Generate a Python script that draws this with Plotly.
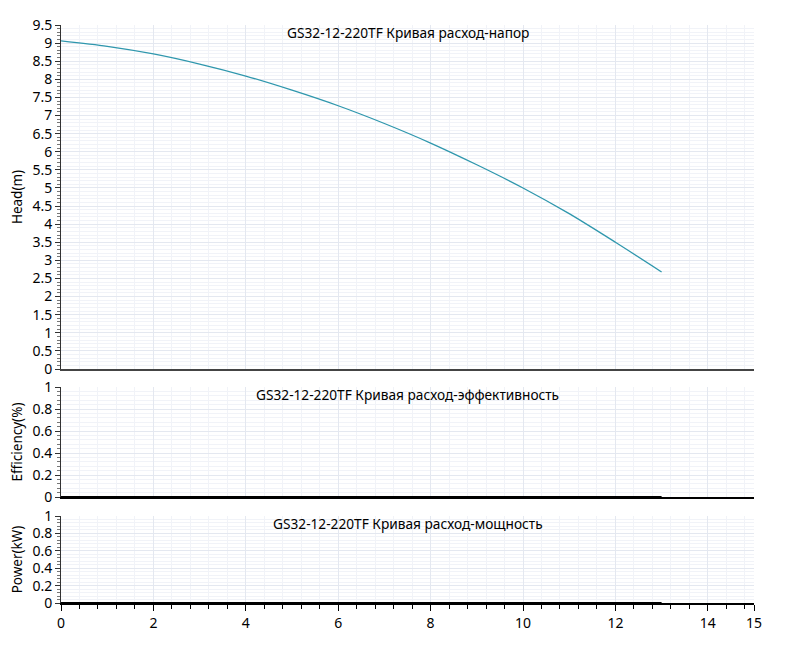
import plotly.graph_objects as go
from plotly.subplots import make_subplots

title_model = "GS32-12-220TF"
flow = [0, 1, 2, 3, 4, 5, 6, 7, 8, 9, 10, 11, 12, 13]
head = [9.06, 8.91, 8.70, 8.42, 8.09, 7.70, 7.27, 6.78, 6.24, 5.64, 5.00, 4.29, 3.50, 2.68]
eff_flow = [0, 13]
eff = [0, 0]
power_flow = [0, 13]
power = [0, 0]
x_ticks = [0, 2, 4, 6, 8, 10, 12, 14, 15]

FONT = "Noto Sans"
major = "#e4e8f0"
minor = "#f1f3f8"

fig = make_subplots(rows=3, cols=1, shared_xaxes=True, vertical_spacing=0.03)
fig.add_trace(go.Scatter(x=flow, y=head, mode="lines", line=dict(color="#2f97ad", width=1.3, shape="spline", smoothing=0.8),
                         showlegend=False, hoverinfo="skip"), row=1, col=1)
fig.add_trace(go.Scatter(x=eff_flow, y=eff, mode="lines", line=dict(color="black", width=2),
                         showlegend=False, hoverinfo="skip"), row=2, col=1)
fig.add_trace(go.Scatter(x=power_flow, y=power, mode="lines", line=dict(color="black", width=2),
                         showlegend=False, hoverinfo="skip"), row=3, col=1)

L, R, T, B = 61, 35, 25, 51
H = 654 - T - B
def d(top, bot):
    return [(603 - bot) / H, (603 - top) / H]

fig.update_layout(
    width=789, height=654, margin=dict(l=L, r=R, t=T, b=B),
    paper_bgcolor="white", plot_bgcolor="white",
    font=dict(family=FONT, size=13, color="black"),
    yaxis=dict(domain=d(25, 369)), yaxis2=dict(domain=d(387, 497)), yaxis3=dict(domain=d(516, 603)),
)

for i in (1, 2, 3):
    fig.update_xaxes(row=i, col=1, range=[0, 15], tickmode="array", tickvals=x_ticks,
                     showticklabels=(i == 3), showgrid=True, gridcolor=major, gridwidth=1,
                     zeroline=False, showline=True, linecolor="black" if i > 1 else "#444", linewidth=2,
                     ticks="outside" if i == 3 else "", ticklen=6, tickcolor="black",
                     tickfont=dict(size=14),
                     minor=dict(dtick=0.4, tick0=0, showgrid=True, gridcolor=minor,
                                ticks="outside" if i == 3 else "", ticklen=4, tickcolor="black"))

yspecs = [
    (1, [0, 9.5], 0.5, 0.1, "Head(m)"),
    (2, [0, 1], 0.2, 0.04, "Efficiency(%)"),
    (3, [0, 1], 0.2, 0.04, "Power(kW)"),
]
for row, rng, dt, mdt, lab in yspecs:
    fig.update_yaxes(row=row, col=1, range=rng, dtick=dt, tick0=0, showgrid=True, gridcolor=major,
                     zeroline=False, showline=True, linecolor="#333", linewidth=1,
                     ticks="outside", ticklen=5, tickcolor="#333", tickfont=dict(size=14),
                     title=dict(text=lab, font=dict(size=13.5), standoff=6),
                     minor=dict(dtick=mdt, showgrid=True, gridcolor=minor, ticks="outside",
                                ticklen=3, tickcolor="#777"))

titles = [
    (1, f"{title_model} Кривая расход-напор"),
    (2, f"{title_model} Кривая расход-эффективность"),
    (3, f"{title_model} Кривая расход-мощность"),
]
for row, txt in titles:
    yref = "y domain" if row == 1 else f"y{row} domain"
    xref = "x domain" if row == 1 else f"x{row} domain"
    fig.add_annotation(text=txt, xref=xref, yref=yref, x=0.5, y=1.0, yshift=4, xanchor="center", yanchor="top",
                       showarrow=False, font=dict(size=13.7, color="black"))

fig.write_html("out.html")
